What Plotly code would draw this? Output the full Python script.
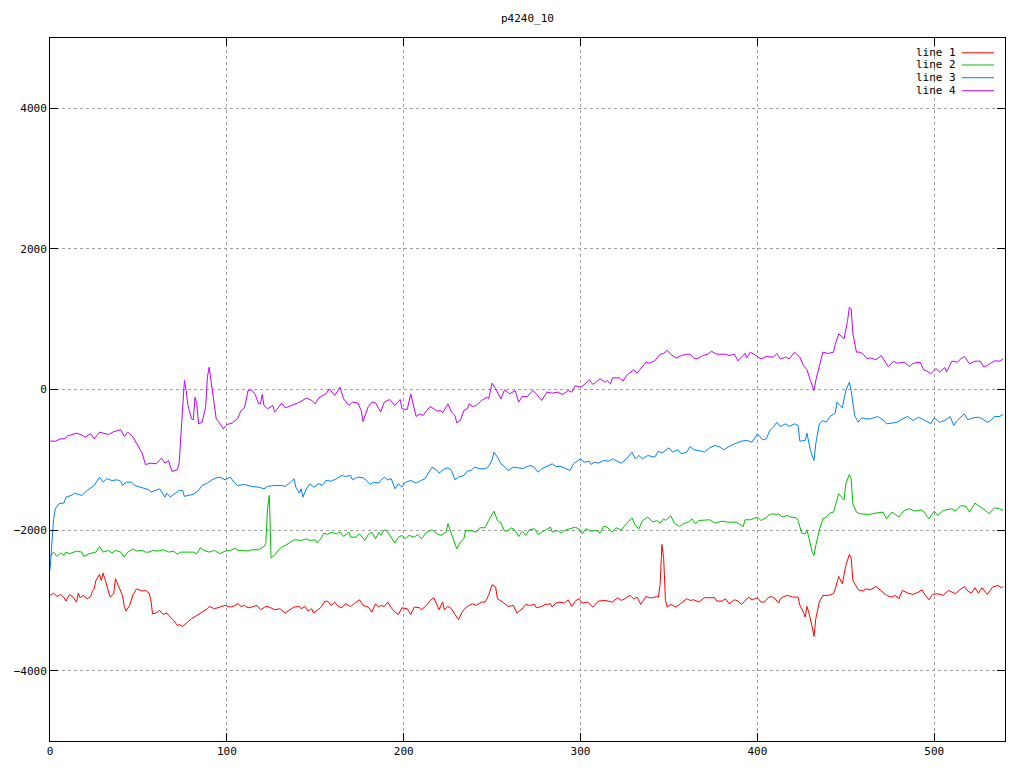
import plotly.graph_objects as go

title_text = "p4240_10"
series_names = ["line 1", "line 2", "line 3", "line 4"]
series_colors = ["#ff0000", "#00c000", "#0080ff", "#c000ff"]

line1 = [(0,-2929),(2,-2896),(4,-2944),(6,-2915),(8,-2962),(9,-3010),(11,-2915),(13,-2953),(15,-3024),(16,-2896),(17,-2962),(19,-2929),(21,-2977),(23,-2944),(24,-2868),(25,-2835),(26,-2716),(28,-2631),(29,-2716),(30,-2612),(31,-2692),(33,-2882),(34,-2953),(36,-2905),(37,-2692),(39,-2811),(41,-2929),(42,-3086),(43,-3152),(45,-3071),(47,-2915),(49,-2835),(52,-2868),(54,-2858),(56,-2896),(57,-2991),(58,-3190),(60,-3180),(62,-3143),(64,-3200),(66,-3180),(68,-3237),(70,-3285),(72,-3356),(73,-3342),(75,-3370),(77,-3323),(80,-3261),(83,-3214),(86,-3166),(89,-3119),(90,-3086),(93,-3119),(96,-3095),(99,-3071),(102,-3095),(105,-3071),(106,-3038),(108,-3086),(110,-3071),(112,-3105),(114,-3095),(117,-3071),(119,-3133),(122,-3086),(124,-3095),(127,-3133),(130,-3119),(133,-3180),(135,-3143),(137,-3105),(138,-3095),(141,-3086),(142,-3119),(144,-3086),(146,-3152),(148,-3119),(149,-3180),(151,-3143),(153,-3105),(155,-3024),(157,-3010),(159,-3071),(161,-3024),(163,-3086),(165,-3105),(167,-3048),(170,-3086),(172,-3048),(175,-2991),(177,-3071),(180,-3095),(182,-3166),(184,-3048),(186,-3095),(187,-3071),(189,-3086),(191,-3024),(193,-3105),(195,-3166),(197,-3200),(199,-3105),(202,-3119),(204,-3200),(206,-3095),(209,-3105),(210,-3133),(213,-3071),(215,-3000),(217,-2962),(219,-3071),(220,-3133),(222,-3024),(223,-3133),(225,-3086),(227,-3119),(229,-3200),(231,-3275),(233,-3166),(235,-3105),(237,-3071),(239,-3048),(241,-3071),(244,-3024),(246,-3024),(248,-2929),(250,-2777),(252,-2811),(253,-2977),(256,-3024),(259,-3086),(262,-3071),(264,-3180),(267,-3119),(269,-3057),(271,-3071),(274,-3057),(275,-3105),(278,-3086),(280,-3057),(283,-3048),(284,-3095),(286,-3038),(288,-3024),(291,-3038),(293,-2991),(295,-3086),(297,-3010),(299,-2977),(301,-3038),(304,-3024),(307,-3095),(310,-3010),(314,-3000),(318,-3024),(321,-2962),(323,-3000),(325,-2977),(328,-2929),(330,-2977),(332,-2953),(334,-3057),(337,-2944),(339,-2962),(341,-2962),(343,-2944),(344,-2953),(345,-2773),(346,-2204),(347,-2408),(348,-3000),(349,-3095),(351,-3057),(354,-3095),(357,-3038),(360,-2977),(362,-3000),(364,-2991),(367,-3024),(370,-2962),(373,-2962),(376,-2962),(377,-3010),(380,-3010),(382,-2977),(384,-3048),(387,-2991),(389,-3010),(391,-3057),(393,-3000),(395,-2953),(397,-2991),(400,-2962),(402,-3024),(404,-3024),(406,-2962),(408,-2944),(410,-2977),(412,-3038),(413,-2977),(415,-2944),(417,-2929),(420,-2953),(423,-2953),(424,-3071),(426,-3166),(427,-3237),(428,-3086),(429,-3166),(431,-3380),(432,-3513),(433,-3261),(435,-3024),(437,-2929),(440,-2929),(443,-2905),(444,-2835),(446,-2659),(448,-2764),(450,-2503),(452,-2346),(453,-2394),(454,-2716),(457,-2849),(460,-2868),(461,-2835),(464,-2849),(467,-2801),(470,-2868),(473,-2929),(476,-2953),(478,-2929),(480,-2977),(482,-2858),(485,-2896),(488,-2915),(491,-2882),(493,-2849),(495,-2929),(497,-2991),(499,-2915),(502,-2905),(505,-2929),(508,-2858),(510,-2882),(512,-2905),(514,-2858),(517,-2801),(519,-2868),(521,-2896),(523,-2820),(525,-2896),(527,-2820),(530,-2915),(533,-2811),(536,-2787),(538,-2820),(539,-2801)]

line2 = [(0,-2375),(2,-2313),(4,-2375),(6,-2327),(8,-2360),(9,-2313),(11,-2337),(15,-2299),(18,-2313),(19,-2375),(22,-2337),(25,-2327),(26,-2313),(28,-2232),(30,-2313),(33,-2289),(35,-2327),(37,-2289),(40,-2313),(42,-2384),(44,-2313),(47,-2266),(49,-2299),(52,-2289),(54,-2313),(56,-2313),(58,-2289),(61,-2299),(64,-2280),(67,-2313),(70,-2299),(72,-2346),(74,-2313),(78,-2313),(81,-2313),(83,-2337),(85,-2251),(87,-2289),(90,-2313),(93,-2289),(96,-2337),(99,-2299),(102,-2289),(105,-2256),(106,-2289),(109,-2289),(112,-2299),(114,-2280),(118,-2280),(121,-2232),(122,-2194),(123,-1697),(124,-1507),(125,-2394),(127,-2360),(129,-2289),(131,-2242),(134,-2204),(136,-2171),(138,-2138),(139,-2138),(142,-2147),(145,-2124),(147,-2147),(150,-2138),(151,-2185),(153,-2124),(155,-2043),(157,-2062),(159,-2029),(162,-2052),(164,-2029),(166,-2090),(169,-2029),(170,-2100),(173,-2100),(175,-2052),(178,-2147),(180,-2062),(182,-2029),(184,-2124),(186,-2029),(187,-2076),(189,-1996),(191,-2029),(193,-2100),(195,-2185),(197,-2100),(199,-2076),(201,-2124),(203,-2076),(206,-2100),(208,-2062),(210,-2124),(213,-2029),(216,-1996),(219,-2052),(221,-2076),(224,-2029),(225,-1910),(227,-2076),(228,-2124),(230,-2266),(232,-2171),(234,-2124),(235,-2005),(238,-2005),(241,-2029),(243,-1967),(246,-1967),(248,-1863),(250,-1758),(251,-1730),(253,-1863),(255,-1901),(257,-2015),(259,-2005),(261,-1967),(263,-2005),(265,-2090),(267,-2015),(269,-2076),(271,-1996),(274,-1981),(276,-2062),(278,-2029),(280,-2005),(283,-1958),(284,-2029),(287,-2005),(289,-2043),(291,-2005),(294,-1981),(297,-1958),(300,-1996),(301,-2052),(303,-1981),(306,-2015),(309,-2005),(311,-2043),(313,-1948),(315,-1958),(318,-2029),(320,-1967),(323,-1996),(326,-1910),(329,-1825),(331,-1934),(333,-1981),(335,-1863),(338,-1815),(341,-1887),(343,-1863),(345,-1901),(347,-1839),(348,-1863),(351,-1796),(353,-1901),(356,-1948),(358,-1910),(361,-1887),(363,-1839),(365,-1910),(367,-1863),(370,-1853),(373,-1853),(376,-1901),(380,-1872),(383,-1887),(388,-1887),(392,-1948),(393,-1853),(396,-1853),(400,-1815),(402,-1863),(405,-1825),(406,-1792),(408,-1768),(411,-1778),(412,-1768),(414,-1815),(417,-1792),(419,-1815),(422,-1825),(423,-1863),(425,-2043),(427,-2052),(428,-1996),(429,-2100),(431,-2313),(432,-2360),(433,-2218),(435,-2005),(437,-1839),(439,-1815),(441,-1758),(443,-1744),(444,-1650),(446,-1484),(449,-1569),(450,-1341),(452,-1209),(453,-1270),(454,-1626),(456,-1744),(458,-1768),(461,-1768),(463,-1778),(467,-1758),(471,-1744),(473,-1839),(476,-1744),(478,-1778),(480,-1815),(483,-1721),(486,-1697),(489,-1730),(493,-1711),(495,-1768),(497,-1839),(500,-1730),(502,-1792),(505,-1721),(508,-1711),(510,-1697),(512,-1730),(515,-1650),(518,-1664),(520,-1744),(523,-1616),(526,-1664),(529,-1721),(531,-1768),(534,-1683),(537,-1697),(539,-1721)]

line3 = [(0,-2570),(1,-2150),(2,-1850),(3,-1697),(5,-1626),(8,-1612),(9,-1531),(12,-1507),(14,-1474),(16,-1493),(18,-1507),(21,-1436),(24,-1389),(25,-1365),(28,-1247),(30,-1318),(32,-1270),(35,-1294),(38,-1285),(40,-1304),(41,-1365),(43,-1318),(46,-1318),(48,-1365),(51,-1389),(54,-1413),(56,-1427),(57,-1460),(60,-1427),(62,-1413),(65,-1531),(66,-1474),(68,-1531),(70,-1493),(73,-1436),(75,-1436),(76,-1521),(78,-1507),(81,-1493),(84,-1436),(86,-1365),(89,-1332),(91,-1294),(94,-1256),(96,-1247),(99,-1285),(102,-1247),(104,-1318),(106,-1365),(110,-1351),(114,-1379),(118,-1389),(121,-1413),(123,-1379),(127,-1365),(131,-1365),(133,-1379),(136,-1318),(138,-1270),(139,-1389),(141,-1474),(142,-1413),(143,-1531),(145,-1413),(147,-1341),(149,-1389),(152,-1341),(154,-1365),(156,-1294),(159,-1304),(162,-1270),(165,-1223),(167,-1237),(170,-1223),(171,-1285),(174,-1247),(177,-1256),(179,-1294),(181,-1351),(183,-1318),(186,-1332),(187,-1294),(189,-1247),(191,-1285),(193,-1270),(195,-1413),(197,-1341),(199,-1389),(201,-1318),(204,-1294),(207,-1332),(209,-1304),(212,-1270),(216,-1105),(219,-1152),(220,-1190),(223,-1128),(225,-1114),(227,-1152),(229,-1284),(231,-1247),(234,-1223),(236,-1161),(238,-1152),(240,-1105),(243,-1128),(246,-1128),(248,-1095),(250,-1000),(251,-891),(253,-962),(255,-1057),(257,-1095),(259,-1152),(262,-1105),(265,-1114),(267,-1128),(270,-1095),(272,-1081),(274,-1114),(276,-1176),(278,-1128),(281,-1095),(284,-1057),(286,-1095),(289,-1095),(292,-1128),(294,-1152),(296,-1057),(300,-986),(302,-1034),(305,-1019),(306,-1067),(308,-1034),(310,-1048),(313,-1010),(316,-1019),(318,-986),(320,-1010),(323,-1048),(326,-986),(329,-891),(331,-986),(333,-939),(335,-986),(338,-939),(342,-962),(344,-877),(346,-905),(348,-868),(350,-830),(352,-891),(355,-858),(357,-915),(360,-891),(362,-811),(364,-858),(367,-868),(370,-891),(373,-830),(376,-796),(379,-820),(381,-858),(384,-811),(387,-773),(391,-735),(394,-725),(397,-749),(400,-630),(403,-716),(405,-702),(407,-583),(409,-536),(411,-465),(413,-526),(416,-488),(418,-526),(421,-488),(423,-512),(424,-735),(427,-725),(428,-621),(430,-868),(432,-1010),(433,-773),(435,-488),(437,-441),(439,-465),(441,-384),(444,-337),(445,-180),(448,-261),(450,-14),(452,104),(453,-14),(455,-370),(457,-465),(459,-403),(461,-417),(464,-417),(468,-384),(471,-432),(473,-488),(476,-479),(479,-465),(482,-417),(485,-384),(488,-441),(491,-394),(493,-417),(496,-465),(498,-488),(500,-403),(503,-465),(506,-441),(509,-384),(511,-512),(513,-441),(517,-346),(519,-432),(522,-403),(525,-394),(527,-417),(530,-465),(532,-441),(534,-384),(537,-384),(539,-355)]

line4 = [(0,-735),(3,-735),(6,-702),(8,-702),(10,-660),(13,-640),(15,-621),(18,-650),(20,-678),(23,-630),(25,-702),(28,-607),(31,-621),(33,-640),(36,-600),(40,-573),(42,-668),(44,-607),(47,-678),(49,-773),(52,-901),(54,-1067),(57,-1048),(60,-1057),(63,-977),(65,-1048),(67,-1010),(69,-1166),(72,-1142),(73,-1057),(74,-678),(75,-346),(76,128),(77,-14),(78,-227),(80,-417),(81,-432),(82,-109),(83,-204),(84,-488),(86,-465),(88,-251),(89,175),(90,317),(91,128),(93,-204),(94,-417),(96,-479),(98,-560),(100,-498),(103,-479),(106,-417),(108,-299),(110,-261),(112,-14),(114,-5),(116,-71),(118,-204),(119,-204),(120,-71),(121,-227),(123,-275),(126,-227),(127,-322),(129,-251),(131,-194),(133,-261),(136,-227),(138,-213),(140,-194),(145,-123),(148,-156),(150,-204),(152,-118),(156,-62),(158,9),(161,-85),(164,33),(166,-133),(169,-227),(171,-180),(174,-190),(176,-299),(177,-455),(180,-242),(182,-180),(184,-190),(186,-275),(187,-322),(189,-180),(192,-142),(195,-227),(198,-142),(199,-275),(202,-284),(204,-62),(205,-156),(207,-384),(209,-346),(211,-370),(213,-299),(215,-242),(219,-308),(221,-299),(222,-332),(225,-204),(227,-322),(229,-370),(230,-474),(232,-441),(234,-299),(236,-275),(237,-204),(239,-242),(241,-227),(244,-156),(247,-109),(248,-133),(250,90),(252,9),(255,-133),(257,-5),(260,-62),(263,-14),(265,-180),(267,-99),(270,-99),(273,-14),(275,-62),(278,-156),(281,-38),(284,-52),(287,-38),(290,-71),(293,-14),(295,-38),(297,55),(300,33),(302,66),(305,137),(307,71),(311,152),(314,104),(315,128),(317,80),(318,166),(322,166),(324,118),(326,199),(330,280),(332,232),(334,294),(337,389),(339,374),(342,408),(345,502),(347,512),(349,559),(351,502),(354,446),(357,483),(360,502),(362,502),(364,446),(366,436),(369,483),(372,502),(374,545),(377,502),(380,502),(382,502),(384,483),(387,502),(389,408),(393,512),(394,450),(396,531),(398,502),(402,436),(405,469),(409,460),(411,512),(413,436),(416,460),(418,436),(421,531),(424,460),(426,341),(428,280),(430,128),(432,-14),(433,128),(435,341),(437,531),(440,512),(443,531),(444,640),(446,792),(449,721),(451,981),(452,1170),(453,1147),(454,792),(456,531),(458,531),(460,497),(462,436),(464,450),(467,422),(470,483),(474,327),(477,403),(479,374),(483,389),(486,327),(488,374),(492,389),(494,280),(496,261),(498,223),(501,299),(503,246),(506,313),(507,251),(510,403),(513,389),(515,436),(517,469),(520,365),(523,403),(526,403),(528,318),(530,341),(534,408),(537,403),(539,436)]

x_ticks = [0, 100, 200, 300, 400, 500]
y_ticks = [-4000, -2000, 0, 2000, 4000]
x_range = [0, 540]
y_range = [-5000, 5000]

FONT = "DejaVu Sans Mono"
FIG_W, FIG_H = 1016, 760  # page body adds an 8px offset

fig = go.Figure()
for name, color, data in zip(series_names, series_colors, [line1, line2, line3, line4]):
    xs = [p[0] for p in data]
    ys = [p[1] for p in data]
    fig.add_trace(go.Scatter(x=xs, y=ys, mode="lines", name=name,
                             line=dict(color=color, width=1), showlegend=False))

# gnuplot-style key: text right-aligned, then line sample
key_rows = [0.979, 0.9616, 0.9435, 0.925]
annotations = []
shapes = []
for name, color, yk in zip(series_names, series_colors, key_rows):
    annotations.append(dict(x=0.9505, y=yk, xref="paper", yref="paper", text=name,
                            showarrow=False, xanchor="right", yanchor="middle",
                            font=dict(family=FONT, size=11, color="black")))
    shapes.append(dict(type="line", xref="paper", yref="paper", x0=0.955, x1=0.9885,
                       y0=yk, y1=yk, line=dict(color=color, width=1)))

axis_common = dict(showline=True, mirror="allticks", linecolor="black", linewidth=1,
                   ticks="inside", ticklen=8, tickcolor="black", automargin=False,
                   showgrid=True, gridcolor="#a0a0a0", griddash="dot", gridwidth=1,
                   zeroline=False, tickfont=dict(family=FONT, size=11, color="black"))

fig.update_layout(
    width=FIG_W, height=FIG_H,
    paper_bgcolor="white", plot_bgcolor="white",
    margin=dict(l=42, r=19, t=30, b=27, autoexpand=False),
    title=dict(text=title_text, x=0.5, xref="paper", y=1 - 10 / FIG_H, yref="container",
               xanchor="center", yanchor="middle",
               font=dict(family=FONT, size=11, color="black")),
    xaxis=dict(range=x_range, tickvals=x_ticks, **axis_common),
    yaxis=dict(range=y_range, tickvals=y_ticks, **axis_common),
    annotations=annotations, shapes=shapes,
    showlegend=False,
)

fig.write_html("out.html")
